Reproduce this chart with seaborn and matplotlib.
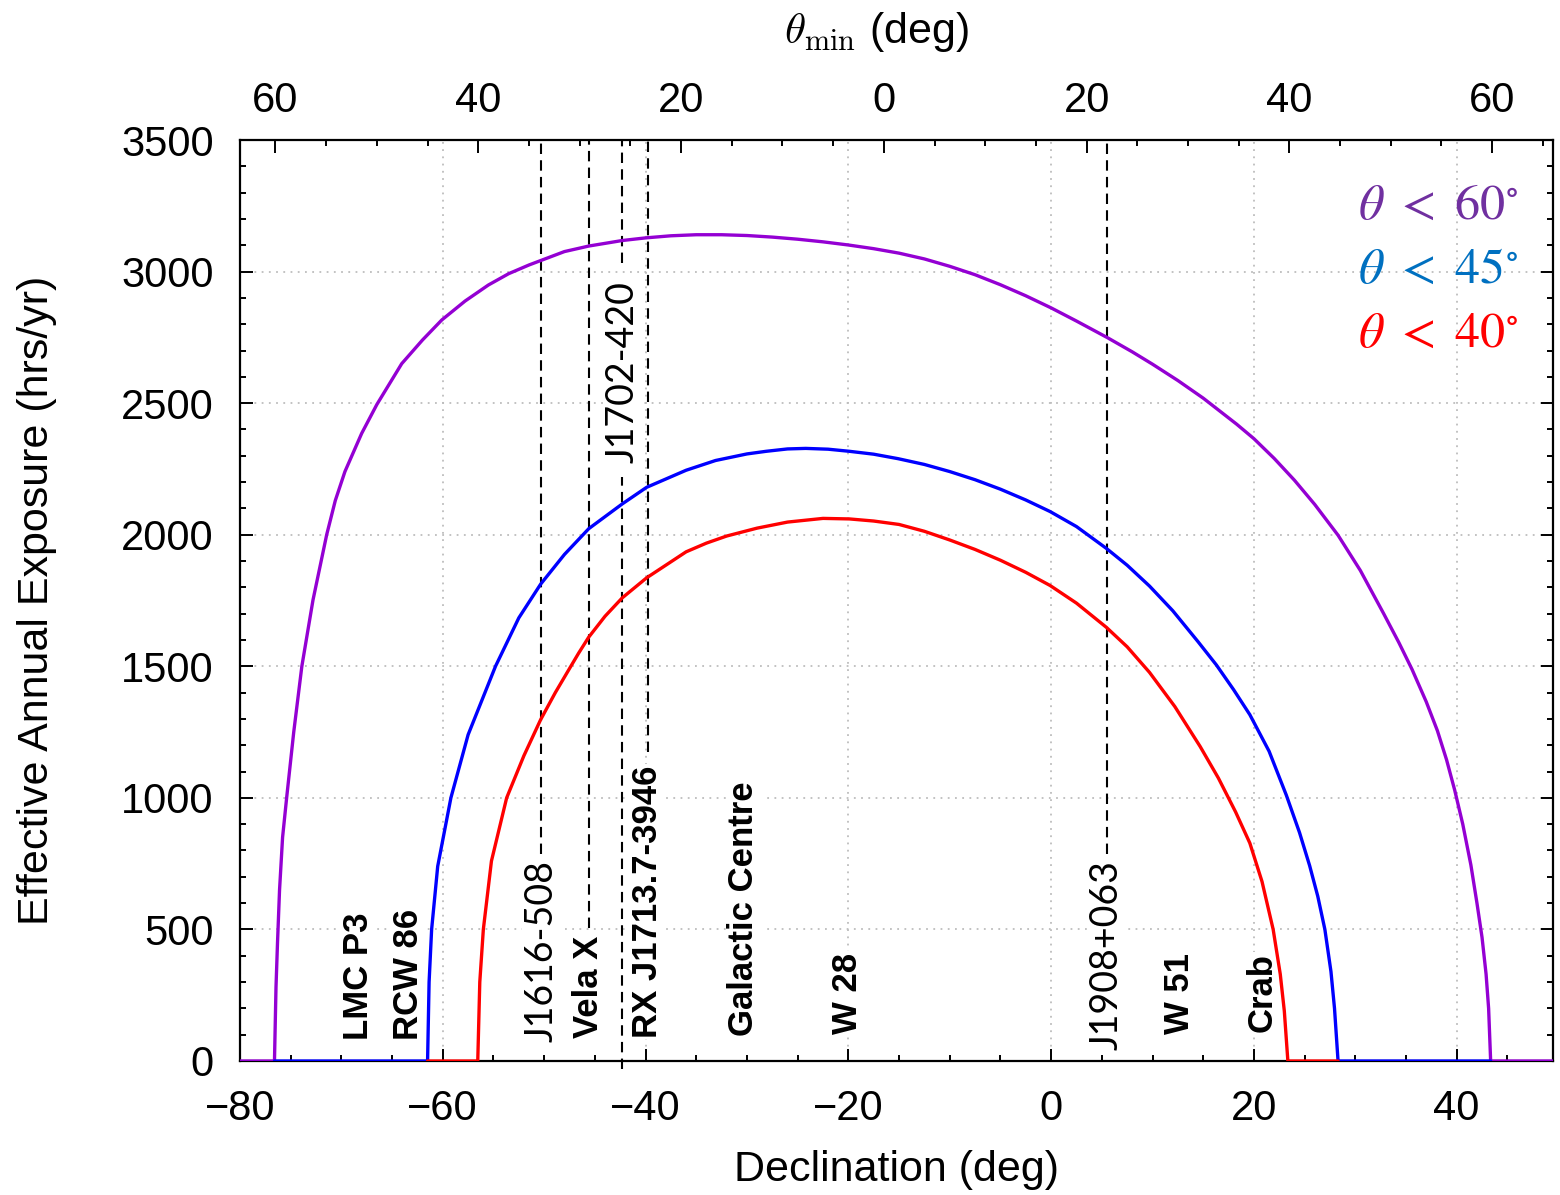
import numpy as np
import pandas as pd
import matplotlib
matplotlib.use("Agg")
import matplotlib.pyplot as plt
from matplotlib.ticker import FixedLocator, MultipleLocator, NullFormatter
import seaborn as sns

# Site latitude (deg): zenith-angle axis is centred here
SITE_LAT = -16.5

# Effective annual exposure (hrs/yr) vs declination (deg) for three zenith cuts
dec_60 = [-80.0, -76.6, -76.45, -76.3, -76.1, -75.8, -75.4, -74.7, -73.9, -72.8,
          -71.45, -70.6, -69.65, -68.0, -66.5, -64.05, -62.0, -60.1, -57.8, -55.5,
          -53.5, -51.5, -48.0, -45.6, -42.3, -40.0, -37.5, -35.0, -32.5, -30.0,
          -27.5, -25.0, -22.5, -20.0, -17.5, -15.0, -12.5, -10.0, -7.5, -5.0,
          -2.5, 0.0, 2.5, 5.5, 8.0, 10.0, 12.5, 15.0, 18.3, 20.0,
          22.0, 24.0, 26.0, 28.3, 30.5, 32.8, 34.3, 35.6, 37.0, 38.1,
          39.0, 39.8, 40.6, 41.4, 42.0, 42.5, 42.9, 43.15, 43.35, 49.5]
exp_60 = [0, 0, 280, 450, 650, 850, 1000, 1250, 1500, 1752,
          2000, 2130, 2240, 2385, 2495, 2650, 2740, 2816, 2888, 2949,
          2992, 3025, 3076, 3097, 3118, 3128, 3136, 3140, 3140, 3137,
          3131, 3123, 3113, 3101, 3087, 3070, 3048, 3020, 2988, 2950,
          2908, 2862, 2812, 2750, 2695, 2648, 2586, 2519, 2420, 2365,
          2290, 2207, 2115, 1998, 1864, 1700, 1590, 1488, 1365, 1255,
          1145, 1030, 900, 745, 600, 470, 330, 200, 0, 0]

dec_45 = [-76.6, -61.5, -61.35, -61.1, -60.5, -59.2, -57.5, -54.8, -52.5, -50.35,
          -48.0, -45.6, -42.3, -39.9, -36.0, -33.1, -30.0, -28.1, -26.0, -24.2,
          -22.0, -19.9, -17.5, -15.1, -12.5, -10.0, -7.5, -5.0, -2.5, -0.1,
          2.5, 5.45, 7.5, 9.7, 12.0, 14.5, 16.3, 18.0, 19.6, 21.5,
          23.2, 24.5, 25.5, 26.3, 27.0, 27.6, 27.95, 28.3, 43.35]
exp_45 = [0, 0, 300, 500, 740, 1000, 1240, 1500, 1684, 1812,
          1925, 2023, 2117, 2180, 2245, 2282, 2307, 2317, 2326, 2328,
          2325, 2317, 2306, 2289, 2267, 2240, 2209, 2173, 2132, 2088,
          2031, 1948, 1884, 1805, 1711, 1593, 1505, 1411, 1316, 1177,
          1010, 868, 742, 626, 500, 340, 200, 0, 0]

dec_40 = [-61.5, -56.55, -56.35, -56.0, -55.2, -53.7, -52.0, -50.35, -48.9, -47.6,
          -46.6, -45.6, -44.0, -42.3, -39.9, -36.0, -34.0, -32.0, -29.0, -26.0,
          -22.5, -19.9, -17.5, -15.0, -12.5, -10.0, -7.5, -5.0, -2.5, -0.1,
          2.5, 5.45, 7.5, 9.7, 12.2, 14.7, 16.5, 18.2, 19.6, 20.8,
          21.9, 22.6, 23.0, 23.35, 28.3]
exp_40 = [0, 0, 300, 500, 760, 1000, 1160, 1297, 1400, 1485,
          1550, 1611, 1690, 1760, 1836, 1935, 1968, 1995, 2025, 2048,
          2062, 2060, 2052, 2039, 2013, 1980, 1944, 1903, 1857, 1807,
          1740, 1648, 1574, 1477, 1347, 1195, 1075, 946, 828, 682,
          500, 330, 190, 0, 0]

cut_names = ["60", "45", "40"]
curve_colors = ["#9400d3", "#0000ff", "#ff0000"]
legend_colors = ["#7030a0", "#0070c0", "#ff0000"]

# Sources: name, declination, marked with a dashed line or not
src_names = ["LMC P3", "RCW 86", "J1616-508", "Vela X", "J1702-420",
             "RX J1713.7-3946", "Galactic Centre", "W 28", "J1908+063",
             "W 51", "Crab"]
src_dec = [-68.3, -63.4, -50.3, -45.6, -42.3, -39.8, -30.3, -20.1, 5.5, 12.7, 20.8]
src_dashed = [False, False, True, True, True, True, False, False, True, False, False]

# Zenith-angle tick values on the top axis
theta_ticks = [60, 40, 20, 0, 20, 40, 60]
theta_sides = [-1, -1, -1, 0, 1, 1, 1]

sns.set_style("ticks")
plt.rcParams["font.family"] = ["Liberation Sans", "DejaVu Sans"]
plt.rcParams.update({
    "text.color": "black",
    "axes.labelcolor": "black",
    "xtick.color": "black",
    "ytick.color": "black",
    "axes.edgecolor": "black",
    "axes.linewidth": 1.6,
})

fig = plt.figure(figsize=(15.6, 11.95), dpi=100)
ax = fig.add_axes([240 / 1560, 1 - 1061 / 1195, 1313 / 1560, 921 / 1195])

frames = []
for name, d, e in zip(cut_names, [dec_60, dec_45, dec_40], [exp_60, exp_45, exp_40]):
    frames.append(pd.DataFrame({"dec": d, "exposure": e, "cut": name}))
df = pd.concat(frames, ignore_index=True)

sns.lineplot(data=df, x="dec", y="exposure", hue="cut", hue_order=cut_names,
             palette=dict(zip(cut_names, curve_colors)), sort=False,
             estimator=None, linewidth=2.4, legend=False, ax=ax, zorder=4)
for ln in ax.get_lines():
    ln.set_solid_joinstyle("round")

ax.set_xlim(-80, 49.5)
ax.set_ylim(0, 3500)

# grid
ax.grid(True, which="major", color="#bdbdbd", linestyle=(0, (1, 3)), linewidth=1.3)
ax.set_axisbelow(True)

# axis ticks
ax.xaxis.set_major_locator(MultipleLocator(20))
ax.xaxis.set_minor_locator(MultipleLocator(5))
ax.yaxis.set_major_locator(MultipleLocator(500))
ax.yaxis.set_minor_locator(MultipleLocator(100))
ax.tick_params(axis="both", which="both", direction="in", width=1.4,
               colors="black", labelsize=30)
ax.tick_params(axis="x", which="both", top=False, bottom=True, pad=20)
ax.tick_params(axis="y", which="both", left=True, right=True, pad=19)
ax.tick_params(which="major", length=9)
ax.tick_params(which="minor", length=4.5)

ax.set_xlabel("Declination (deg)", fontsize=31)
ax.set_ylabel("Effective Annual Exposure (hrs/yr)", fontsize=31)
ax.xaxis.set_label_coords(0.5, -0.097)
ax.yaxis.set_label_coords(-0.139, 0.5)

for sp in ax.spines.values():
    sp.set_color("black")
    sp.set_linewidth(1.6)

# top axis: minimum zenith angle
ax2 = ax.twiny()
ax2.set_xlim(ax.get_xlim())
top_pos = [SITE_LAT + s * t for s, t in zip(theta_sides, theta_ticks)]
ax2.xaxis.set_major_locator(FixedLocator(top_pos))
ax2.set_xticklabels([str(t) for t in theta_ticks])
ax2.xaxis.set_minor_locator(FixedLocator([SITE_LAT + 5 * k for k in range(-13, 14)]))
ax2.xaxis.set_minor_formatter(NullFormatter())
ax2.tick_params(axis="x", which="both", direction="in", width=1.4, colors="black",
                labelsize=30, pad=14, top=True, bottom=False)
ax2.tick_params(which="major", length=9)
ax2.tick_params(which="minor", length=4.5)
ax2.set_xlabel(r"$\theta_{\mathrm{min}}$ (deg)", fontsize=31, math_fontfamily="cm")
ax2.xaxis.set_label_coords(0.4844, 1.1053)
for sp in ax2.spines.values():
    sp.set_visible(False)

# source markers
line_lo = {"J1616-508": 785, "Vela X": 505, "RX J1713.7-3946": 1174, "J1908+063": 785}
label_base = {"LMC P3": 80, "RCW 86": 80, "J1616-508": 72, "Vela X": 87,
              "RX J1713.7-3946": 87, "Galactic Centre": 95, "W 28": 103,
              "J1908+063": 42, "W 51": 103, "Crab": 110}
dash = (0, (5, 3))
for name, d, dashed in zip(src_names, src_dec, src_dashed):
    j_style = name.startswith("J")
    font = dict(family=["Lato", "DejaVu Sans"], fontsize=27, color="black") if j_style else \
        dict(family=["Liberation Sans", "DejaVu Sans"], fontsize=25, fontweight="bold",
             color="black")
    if name == "J1702-420":
        ax.vlines(d, 3033, 3500, colors="black", linestyles=dash, linewidth=1.5, zorder=3)
        ax.vlines(d, -30, 2220, colors="black", linestyles=dash, linewidth=1.5,
                  zorder=3, clip_on=False)
        ax.text(d, 2619, name, rotation=90, ha="center", va="center", zorder=3,
                bbox=dict(facecolor="white", edgecolor="none", pad=1), **font)
        continue
    if dashed:
        ax.vlines(d, line_lo[name], 3500, colors="black", linestyles=dash,
                  linewidth=1.5, zorder=3)
    ax.text(d, label_base[name], name, rotation=90, ha="center", va="bottom", zorder=3,
            bbox=dict(facecolor="white", edgecolor="none", pad=1), **font)

# zenith cut key
for name, col, yy in zip(cut_names, legend_colors, [0.929, 0.859, 0.790]):
    ax.text(0.9733, yy, r"$\theta\ <\ " + name + r"^{\circ}$", transform=ax.transAxes,
            ha="right", va="center", color=col, fontsize=36, math_fontfamily="stix",
            zorder=5)

fig.savefig("out.png", dpi=100)
